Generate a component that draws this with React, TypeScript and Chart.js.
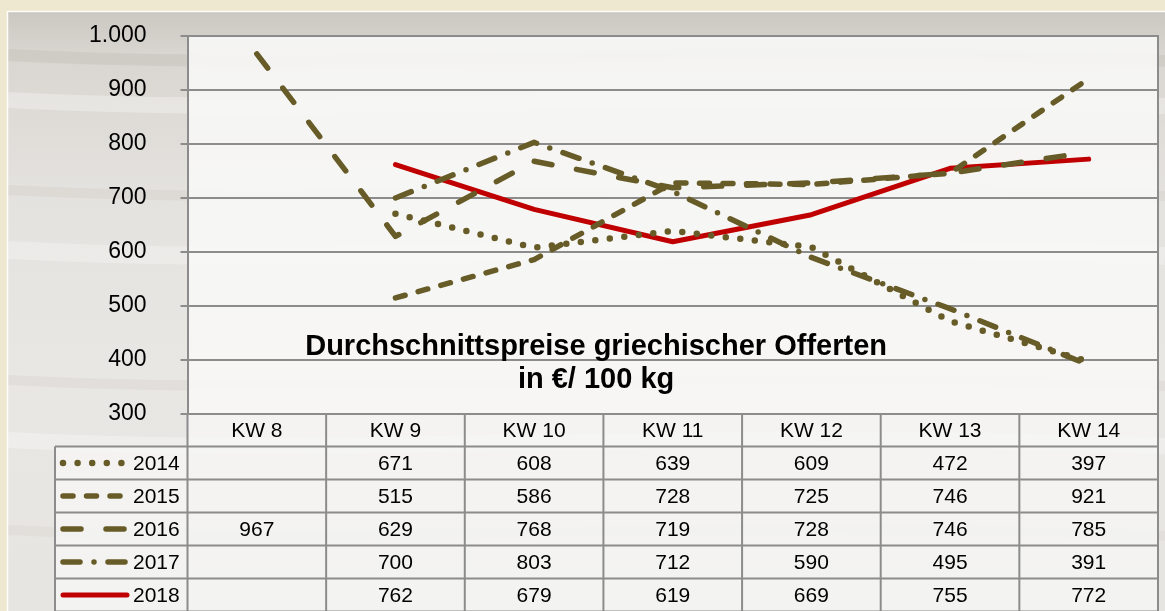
import React, { useEffect, useRef } from "react";
import { Chart, registerables } from "chart.js";

Chart.register(...registerables);

// ---------- data ----------
const categories = ["KW 8", "KW 9", "KW 10", "KW 11", "KW 12", "KW 13", "KW 14"];
const seriesNames = ["2014", "2015", "2016", "2017", "2018"];
const values2014: (number | null)[] = [null, 671, 608, 639, 609, 472, 397];
const values2015: (number | null)[] = [null, 515, 586, 728, 725, 746, 921];
const values2016: (number | null)[] = [967, 629, 768, 719, 728, 746, 785];
const values2017: (number | null)[] = [null, 700, 803, 712, 590, 495, 391];
const values2018: (number | null)[] = [null, 762, 679, 619, 669, 755, 772];
const yMin = 300;
const yMax = 1000;
const yStep = 100;
const titleLines = ["Durchschnittspreise griechischer Offerten", "in €/ 100 kg"];

// ---------- styles ----------
const OLIVE = "#675b27";
const RED = "#c00000";
const GRID = "#8c8c8c";
const FONT = "'Liberation Sans', Arial, sans-serif";

const seriesStyles = [
  { color: OLIVE, width: 6.5, dash: [0, 14.6] },
  { color: OLIVE, width: 5.5, dash: [10, 13.5] },
  { color: OLIVE, width: 5.5, dash: [18, 25] },
  { color: OLIVE, width: 5.5, dash: [17, 14, 0, 14] },
  { color: RED, width: 5, dash: [] as number[] },
];
const seriesValues = [values2014, values2015, values2016, values2017, values2018];

function fmt(v: number): string {
  if (v >= 1000) {
    const th = Math.floor(v / 1000);
    const rest = String(v % 1000).padStart(3, "0");
    return th + "." + rest;
  }
  return String(v);
}

function tableGeom(chart: any) {
  const ca = chart.chartArea;
  const headerTop = ca.bottom;
  const headerBottom = headerTop + 32.5;
  const rowH = 33;
  const legendLeft = 55;
  return { headerTop, headerBottom, rowH, legendLeft };
}

const decorPlugin = {
  id: "decor",
  beforeDraw(chart: any) {
    const ctx = chart.ctx as CanvasRenderingContext2D;
    const W = chart.width;
    const H = chart.height;
    const ca = chart.chartArea;
    ctx.save();
    // cream page
    ctx.fillStyle = "#eee8d1";
    ctx.fillRect(0, 0, W, H);
    // marble panel
    const px = 8, py = 12;
    const g = ctx.createLinearGradient(0, py, 0, H);
    g.addColorStop(0, "#cbc7c1");
    g.addColorStop(0.07, "#d9d6d1");
    g.addColorStop(0.3, "#e4e2de");
    g.addColorStop(0.6, "#e9e7e4");
    g.addColorStop(1, "#e7e5e1");
    ctx.fillStyle = g;
    ctx.fillRect(px, py, W - px, H - py);
    // soft streaks
    const streaks = [
      [55, "rgba(180,175,168,0.25)", 12],
      [100, "rgba(255,255,255,0.3)", 16],
      [190, "rgba(190,185,178,0.18)", 10],
      [250, "rgba(255,255,255,0.25)", 18],
      [380, "rgba(190,185,178,0.18)", 10],
      [440, "rgba(255,255,255,0.3)", 16],
      [530, "rgba(195,190,183,0.15)", 10],
    ] as [number, string, number][];
    for (const [y, c, w] of streaks) {
      ctx.strokeStyle = c;
      ctx.lineWidth = w;
      ctx.beginPath();
      ctx.moveTo(px, y);
      ctx.bezierCurveTo(W * 0.3, y + 18, W * 0.6, y - 14, W, y + 6);
      ctx.stroke();
    }
    ctx.strokeStyle = "rgba(255,255,255,0.9)";
    ctx.lineWidth = 1.5;
    ctx.beginPath();
    ctx.moveTo(px - 0.5, H);
    ctx.lineTo(px - 0.5, py - 0.5);
    ctx.lineTo(W, py - 0.5);
    ctx.stroke();

    // plot area light fill
    ctx.fillStyle = "rgba(248,248,247,0.88)";
    ctx.fillRect(ca.left, ca.top, ca.right - ca.left, ca.bottom - ca.top);

    // table fill
    const t = tableGeom(chart);
    ctx.fillStyle = "rgba(246,246,245,0.8)";
    ctx.fillRect(ca.left, t.headerTop, ca.right - ca.left, t.headerBottom - t.headerTop);
    ctx.fillRect(t.legendLeft, t.headerBottom, ca.right - t.legendLeft, H - t.headerBottom);
    ctx.restore();
  },
  afterDraw(chart: any) {
    const ctx = chart.ctx as CanvasRenderingContext2D;
    const ca = chart.chartArea;
    const H = chart.height;
    const t = tableGeom(chart);
    const xs = chart.scales.x;
    const n = categories.length;
    const colW = (ca.right - ca.left) / n;
    ctx.save();
    // plot right border
    ctx.strokeStyle = GRID;
    ctx.lineWidth = 2;
    ctx.beginPath();
    ctx.moveTo(ca.right, ca.top - 1);
    ctx.lineTo(ca.right, H);
    ctx.stroke();

    // table lines
    ctx.beginPath();
    for (let i = 0; i <= n; i++) {
      const x = ca.left + i * colW;
      ctx.moveTo(x, t.headerTop);
      ctx.lineTo(x, H);
    }
    ctx.moveTo(t.legendLeft, t.headerBottom);
    ctx.lineTo(t.legendLeft, H);
    ctx.moveTo(ca.left, t.headerTop);
    ctx.lineTo(ca.right, t.headerTop);
    for (let r = 0; r <= seriesNames.length; r++) {
      const y = t.headerBottom + r * t.rowH;
      ctx.moveTo(t.legendLeft, y);
      ctx.lineTo(ca.right, y);
    }
    ctx.stroke();

    // header text
    ctx.fillStyle = "#000";
    ctx.font = `21px ${FONT}`;
    ctx.textAlign = "center";
    ctx.textBaseline = "middle";
    categories.forEach((c, i) => {
      const x = xs.getPixelForValue(i);
      ctx.fillText(c, x, (t.headerTop + t.headerBottom) / 2 + 1);
    });
    // rows
    seriesNames.forEach((name, r) => {
      const yc = t.headerBottom + (r + 0.5) * t.rowH + 1;
      const vals = seriesValues[r];
      ctx.textAlign = "center";
      ctx.fillStyle = "#000";
      vals.forEach((v, i) => {
        if (v == null) return;
        ctx.fillText(String(v), xs.getPixelForValue(i), yc);
      });
      const st = seriesStyles[r];
      ctx.save();
      ctx.strokeStyle = st.color;
      ctx.lineWidth = st.width;
      ctx.lineCap = "round";
      ctx.setLineDash(st.dash);
      ctx.beginPath();
      ctx.moveTo(t.legendLeft + 8, yc - 1);
      ctx.lineTo(t.legendLeft + 72, yc - 1);
      ctx.stroke();
      ctx.restore();
      ctx.fillStyle = "#000";
      ctx.textAlign = "left";
      ctx.fillText(name, t.legendLeft + 78, yc);
    });

    // title
    ctx.font = `bold 29px ${FONT}`;
    ctx.textAlign = "center";
    ctx.textBaseline = "middle";
    const tx = ca.left + (ca.right - ca.left) * 0.421;
    ctx.fillText(titleLines[0], tx, ca.top + (ca.bottom - ca.top) * 0.822);
    ctx.fillText(titleLines[1], tx, ca.top + (ca.bottom - ca.top) * 0.91);
    ctx.restore();
  },
};

export default function App() {
  const ref = useRef<HTMLCanvasElement | null>(null);
  useEffect(() => {
    if (!ref.current) return;
    const chart = new Chart(ref.current, {
      type: "line",
      data: {
        labels: categories,
        datasets: seriesNames.map((name, i) => ({
          label: name,
          data: seriesValues[i],
          borderColor: seriesStyles[i].color,
          backgroundColor: seriesStyles[i].color,
          borderWidth: seriesStyles[i].width,
          borderDash: seriesStyles[i].dash,
          borderCapStyle: "round",
          borderJoinStyle: "round",
          pointRadius: 0,
          pointHoverRadius: 0,
          tension: 0,
          fill: false,
          spanGaps: false,
        })),
      },
      options: {
        responsive: false,
        animation: false,
        devicePixelRatio: 1,
        events: [],
        layout: { padding: { left: 0, right: 7, top: 36, bottom: 197 } },
        plugins: {
          legend: { display: false },
          tooltip: { enabled: false },
          title: { display: false },
        },
        scales: {
          x: {
            type: "category",
            offset: true,
            display: false,
            grid: { display: false },
          },
          y: {
            min: yMin,
            max: yMax,
            ticks: {
              stepSize: yStep,
              color: "#000",
              font: { family: FONT, size: 23 },
              padding: 34,
              callback: (v: any) => fmt(Number(v)),
            },
            grid: { color: GRID, lineWidth: 2, tickLength: 7, drawTicks: true },
            border: { color: GRID, width: 2 },
            afterFit: (s: any) => {
              s.width = 187.5;
              s.paddingTop = 12;
              s.paddingBottom = 12;
            },
          },
        },
      },
      plugins: [decorPlugin],
    } as any);
    return () => chart.destroy();
  }, []);
  return (
    <div style={{ position: "fixed", left: 0, top: 0, width: 1165, height: 611 }}>
      <canvas ref={ref} width={1165} height={611} style={{ display: "block", width: 1165, height: 611 }} />
    </div>
  );
}
